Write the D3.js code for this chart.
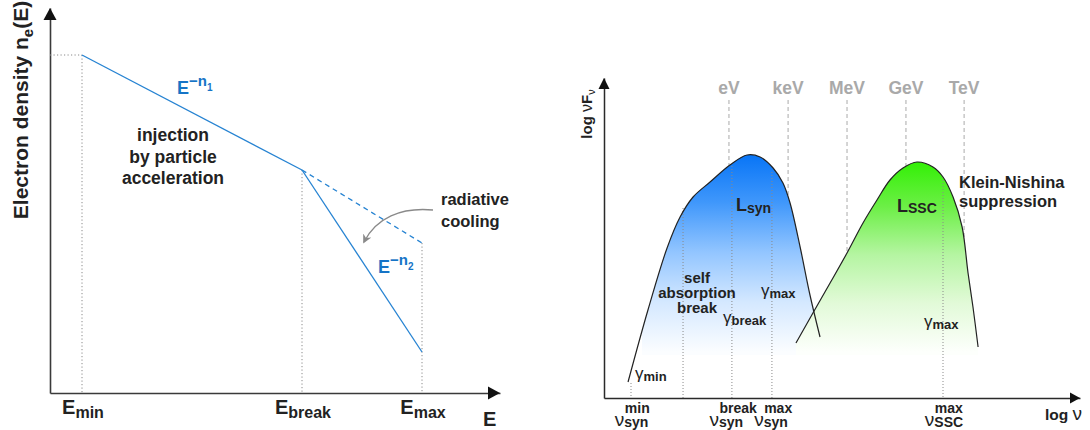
<!DOCTYPE html>
<html>
<head>
<meta charset="utf-8">
<script src="https://cdn.jsdelivr.net/npm/d3@7"></script>
<style>
  html, body { margin: 0; padding: 0; background: #fff; }
  svg { display: block; font-family: "Liberation Sans", Arial, Helvetica, sans-serif; }
</style>
</head>
<body>
<svg id="chart" width="1090" height="430"></svg>
<script>
// ---------- Left panel: electron energy distribution (log–log, arbitrary units) ----------
const energyNames = ["min", "break", "max"];
const energyLog = [0.64, 5.04, 7.44];      // log E at E_min, E_break, E_max
const injectedLog = [6.76, 4.46];          // log n_e(E) at E_min and E_break  (E^-n1)
const cooledLog = [4.46, 0.82];            // log n_e(E) at E_break and E_max (E^-n2)
const uncooledLog = [4.46, 3.0];           // dashed uncooled continuation, E_break -> E_max

// ---------- Right panel: synchrotron + SSC spectral energy distribution ----------
const synLogNu = [9.22, 10.23, 11.20, 11.86, 12.52, 13.38, 14.39, 15.26, 15.92, 16.58, 17.08, 17.44, 17.95, 18.45, 18.96];
const synLogNuFnu = [0.80, 4.40, 7.50, 9.05, 10.05, 10.80, 11.65, 12.15, 12.05, 11.50, 10.75, 9.75, 7.55, 5.15, 3.05];
const sscLogNu = [17.74, 18.60, 19.47, 20.33, 21.14, 21.85, 22.51, 23.17, 23.88, 24.69, 25.20, 25.71, 26.17, 26.47, 26.72, 26.98];
const sscLogNuFnu = [2.75, 4.25, 5.75, 7.25, 8.75, 9.90, 10.90, 11.50, 11.80, 11.55, 11.05, 10.05, 8.55, 6.25, 4.55, 2.55];

const bandNames = ["eV", "keV", "MeV", "GeV", "TeV"];
const bandLogNu = [14.34, 17.34, 20.33, 23.32, 26.27];
const bandTopLogNuFnu = 14.9;

// characteristic frequencies: log nu, and log nuFnu where the marker meets the curve
const markerNames = ["nuSynMin", "selfAbsorption", "nuSynBreak", "nuSynMax", "nuSscMax"];
const markerLogNu = [9.37, 12.01, 14.49, 16.52, 25.20];
const markerTop = [0.75, 9.5, 11.6, 11.3, 11.05];

const svg = d3.select("#chart");
const ink = "#222";
const blue = "#2683d2";
const blueText = "#1674c6";

// text with tspans; each part: t, size, w, off (baseline offset from y), fill
function rich(sel, x, y, parts, anchor) {
  const t = sel.append("text").attr("x", x).attr("y", y)
    .attr("text-anchor", anchor || "start").attr("fill", ink);
  let prev = 0;
  parts.forEach(p => {
    const s = t.append("tspan").text(p.t)
      .attr("font-size", p.size)
      .attr("font-weight", p.w || "bold");
    const off = p.off || 0;
    if (off !== prev) s.attr("dy", off - prev);
    prev = off;
    if (p.fill) s.attr("fill", p.fill);
  });
  return t;
}

const defs = svg.append("defs");

// ================= LEFT PANEL =================
const xL = d3.scaleLinear().domain([0, 9]).range([50, 500]);
const yL = d3.scaleLinear().domain([0, 7.7]).range([393, 8]);
const left = svg.append("g");

// axes (no ticks)
const axL = left.append("g").attr("transform", `translate(0,${yL(0)})`)
  .call(d3.axisBottom(xL).tickValues([]).tickSizeOuter(0));
const ayL = left.append("g").attr("transform", `translate(${xL(0)},0)`)
  .call(d3.axisLeft(yL).tickValues([]).tickSizeOuter(0));
[axL, ayL].forEach(a => a.select(".domain").attr("stroke", "#3a3a3a").attr("stroke-width", 1.6));
left.append("path")
  .attr("d", `M${xL(9) - 12},${yL(0) - 6.5}L${xL(9)},${yL(0)}L${xL(9) - 12},${yL(0) + 6.5}Z`)
  .attr("fill", "#111");
left.append("path")
  .attr("d", `M${xL(0) - 6.5},${yL(7.7) + 12}L${xL(0)},${yL(7.7)}L${xL(0) + 6.5},${yL(7.7) + 12}Z`)
  .attr("fill", "#111");

// dotted guides
const guideTops = [injectedLog[0], injectedLog[1], uncooledLog[1]];
const dotted = left.append("g").attr("stroke", "#8a8a8a").attr("stroke-width", 1)
  .attr("stroke-dasharray", "1.2,2.3").attr("fill", "none");
energyLog.forEach((e, i) => {
  dotted.append("line").attr("x1", xL(e)).attr("x2", xL(e))
    .attr("y1", yL(guideTops[i])).attr("y2", yL(0));
});
dotted.append("line").attr("x1", xL(0)).attr("x2", xL(energyLog[0]))
  .attr("y1", yL(injectedLog[0])).attr("y2", yL(injectedLog[0]));

// spectrum lines
const lineL = d3.line().x(d => xL(d[0])).y(d => yL(d[1]));
left.append("path")
  .datum([[energyLog[0], injectedLog[0]], [energyLog[1], injectedLog[1]]])
  .attr("d", lineL).attr("fill", "none").attr("stroke", blue).attr("stroke-width", 1.3);
left.append("path")
  .datum([[energyLog[1], cooledLog[0]], [energyLog[2], cooledLog[1]]])
  .attr("d", lineL).attr("fill", "none").attr("stroke", blue).attr("stroke-width", 1.3);
left.append("path")
  .datum([[energyLog[1], uncooledLog[0]], [energyLog[2], uncooledLog[1]]])
  .attr("d", lineL).attr("fill", "none").attr("stroke", blue).attr("stroke-width", 1.3)
  .attr("stroke-dasharray", "5,4");

// cooling arrow
defs.append("marker").attr("id", "grayHead").attr("viewBox", "0 0 10 10")
  .attr("refX", 8).attr("refY", 5).attr("markerWidth", 9).attr("markerHeight", 9)
  .attr("markerUnits", "userSpaceOnUse").attr("orient", "auto")
  .append("path").attr("d", "M0,0L10,5L0,10L3,5Z").attr("fill", "#8a8a8a");
left.append("path")
  .attr("d", "M433,210C401,207 376,218 364,242")
  .attr("fill", "none").attr("stroke", "#8a8a8a").attr("stroke-width", 1.3)
  .attr("marker-end", "url(#grayHead)");

// left labels
rich(left, 0, 0, [
  { t: "Electron density n", size: 21 },
  { t: "e", size: 15, off: 5 },
  { t: "(E)", size: 21, off: 0 }
], "middle").attr("transform", "translate(28,110) rotate(-90)");

rich(left, 177, 94, [
  { t: "E", size: 18, fill: blueText },
  { t: "\u2212n", size: 15, off: -8, fill: blueText },
  { t: "1", size: 10, off: -3, fill: blueText }
]);
rich(left, 378, 273, [
  { t: "E", size: 18, fill: blueText },
  { t: "\u2212n", size: 15, off: -8, fill: blueText },
  { t: "2", size: 10, off: -3, fill: blueText }
]);

["injection", "by particle", "acceleration"].forEach((s, i) => {
  rich(left, 173, 141 + i * 21.5, [{ t: s, size: 17.5 }], "middle");
});
["radiative", "cooling"].forEach((s, i) => {
  rich(left, 441, 205 + i * 22, [{ t: s, size: 16.5 }]);
});

energyNames.forEach((n, i) => {
  rich(left, xL(energyLog[i]) + 1, 414, [
    { t: "E", size: 20 },
    { t: n, size: 16, off: 4 }
  ], "middle");
});
rich(left, 483, 426, [{ t: "E", size: 20 }]);

// ================= RIGHT PANEL =================
const xR = d3.scaleLinear().domain([8, 32.15]).range([604, 1080]);
const yR = d3.scaleLinear().domain([0, 16]).range([398, 78]);
const right = svg.append("g");

const synPts = synLogNu.map((v, i) => [v, synLogNuFnu[i]]);
const sscPts = sscLogNu.map((v, i) => [v, sscLogNuFnu[i]]);
const curve = d3.line().x(d => xR(d[0])).y(d => yR(d[1])).curve(d3.curveCatmullRom.alpha(0.5));

// area under each bump down to the axis (used for masking and fill)
function underPath(pts) {
  const top = curve(pts);
  const a = pts[pts.length - 1], b = pts[0];
  return `${top}L${xR(a[0])},${yR(0)}L${xR(b[0])},${yR(0)}Z`;
}

// vertical fades: saturated at the peak, white toward the axis
function fade(id, y1, y2, colors) {
  const g = defs.append("linearGradient").attr("id", id)
    .attr("gradientUnits", "userSpaceOnUse").attr("x1", 0).attr("x2", 0).attr("y1", y1).attr("y2", y2);
  colors.forEach((c, i) => g.append("stop").attr("offset", i / (colors.length - 1)).attr("stop-color", c));
}
fade("gBlue", 152, 352, ["#0573f6", "#3f97fb", "#92c5ff", "#d4e8ff", "#fbfdff"]);
fade("gGreen", 158, 352, ["#2ef000", "#6cef46", "#b5f5a2", "#e2fad8", "#fdfffc"]);

defs.append("clipPath").attr("id", "fillClip")
  .append("rect").attr("x", 642).attr("y", 0).attr("width", 440).attr("height", 355);

const mask = defs.append("mask").attr("id", "outsideBumps")
  .attr("maskUnits", "userSpaceOnUse").attr("x", 0).attr("y", 0).attr("width", 1090).attr("height", 430);
mask.append("rect").attr("width", 1090).attr("height", 430).attr("fill", "#fff");
mask.append("path").attr("d", underPath(synPts)).attr("fill", "#000");
mask.append("path").attr("d", underPath(sscPts)).attr("fill", "#000");

// energy band guides
const bands = right.append("g").attr("mask", "url(#outsideBumps)");
bandLogNu.forEach((v, i) => {
  bands.append("line").attr("x1", xR(v)).attr("x2", xR(v))
    .attr("y1", yR(bandTopLogNuFnu)).attr("y2", yR(0))
    .attr("stroke", "#aaa").attr("stroke-width", 1).attr("stroke-dasharray", "4,3");
  right.append("text").attr("x", xR(v)).attr("y", 94).attr("text-anchor", "middle")
    .attr("font-size", 17.5).attr("font-weight", "bold").attr("fill", "#a9a9a9")
    .text(bandNames[i]);
});

// fills
const fills = right.append("g").attr("clip-path", "url(#fillClip)");
fills.append("path").attr("d", underPath(synPts)).attr("fill", "url(#gBlue)");
fills.append("path").attr("d", underPath(sscPts)).attr("fill", "url(#gGreen)");

// characteristic-frequency markers
markerLogNu.forEach((v, i) => {
  right.append("line").attr("x1", xR(v)).attr("x2", xR(v))
    .attr("y1", yR(markerTop[i])).attr("y2", yR(0))
    .attr("stroke", "#8a8a8a").attr("stroke-width", 1).attr("stroke-dasharray", "1,2");
});

// curves
right.append("path").datum(synPts).attr("d", curve)
  .attr("fill", "none").attr("stroke", ink).attr("stroke-width", 1.2);
right.append("path").datum(sscPts).attr("d", curve)
  .attr("fill", "none").attr("stroke", ink).attr("stroke-width", 1.2);

// axes (no ticks)
const axR = right.append("g").attr("transform", `translate(0,${yR(0)})`)
  .call(d3.axisBottom(xR).tickValues([]).tickSizeOuter(0));
const ayR = right.append("g").attr("transform", `translate(${xR(8)},0)`)
  .call(d3.axisLeft(yR).tickValues([]).tickSizeOuter(0));
[axR, ayR].forEach(a => a.select(".domain").attr("stroke", "#2a2a2a").attr("stroke-width", 1.5));
right.append("path")
  .attr("d", `M${xR(32.15) - 10},${yR(0) - 5.5}L${xR(32.15)},${yR(0)}L${xR(32.15) - 10},${yR(0) + 5.5}Z`)
  .attr("fill", "#111");
right.append("path")
  .attr("d", `M${xR(8) - 5.5},${yR(16) + 11}L${xR(8)},${yR(16)}L${xR(8) + 5.5},${yR(16) + 11}Z`)
  .attr("fill", "#111");

// axis titles
rich(right, 0, 0, [
  { t: "log ", size: 15 },
  { t: "\u03bd", size: 16, w: "normal" },
  { t: "F", size: 15 },
  { t: "\u03bd", size: 11, w: "normal", off: 3 }
], "middle").attr("transform", "translate(592,114) rotate(-90)");
rich(right, 1045, 420, [
  { t: "log ", size: 15.5 },
  { t: "\u03bd", size: 19, w: "normal" }
]);

// nu labels under the axis: nu with stacked super/subscript, centred on the marker
const nuSup = ["min", null, "break", "max", "max"];
const nuSub = ["syn", null, "syn", "syn", "SSC"];
markerLogNu.forEach((v, i) => {
  if (!nuSup[i]) return;
  const g = right.append("g");
  const nu = g.append("text").attr("y", 426).attr("font-size", 19).attr("fill", ink).text("\u03bd");
  const sup = g.append("text").attr("y", 413).attr("font-size", 14).attr("font-weight", "bold")
    .attr("fill", ink).text(nuSup[i]);
  const sub = g.append("text").attr("y", 427).attr("font-size", 14).attr("font-weight", "bold")
    .attr("fill", ink).text(nuSub[i]);
  const wn = nu.node().getComputedTextLength();
  const ws = Math.max(sup.node().getComputedTextLength(), sub.node().getComputedTextLength());
  const x0 = xR(v) + 1 - (wn + ws) / 2;
  nu.attr("x", x0);
  sup.attr("x", x0 + wn + 0.5);
  sub.attr("x", x0 + wn);
});

// in-plot labels
rich(right, 736, 211, [{ t: "L", size: 18 }, { t: "syn", size: 14, off: 2 }]);
rich(right, 897, 212, [{ t: "L", size: 18 }, { t: "SSC", size: 14, off: 1 }]);
["Klein-Nishina", "suppression"].forEach((s, i) => {
  rich(right, 959, 188 + i * 19, [{ t: s, size: 16.5 }]);
});
["self", "absorption", "break"].forEach((s, i) => {
  rich(right, 697, 283 + i * 15, [{ t: s, size: 15 }], "middle");
});
function gamma(x, y, s) {
  rich(right, x, y, [{ t: "\u03b3", size: 17, w: "normal" }, { t: s, size: 13, off: 2 }]);
}
gamma(761, 296, "max");
gamma(723, 323, "break");
gamma(635, 379, "min");
gamma(924, 327, "max");
</script>
</body>
</html>
